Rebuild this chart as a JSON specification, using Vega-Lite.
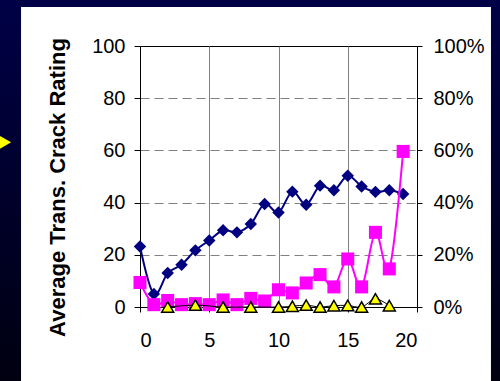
{
  "$schema": "https://vega.github.io/schema/vega-lite/v6.json",
  "width": 277,
  "height": 261,
  "autosize": {"type": "none"},
  "padding": {"left": 140, "top": 46, "right": 83, "bottom": 74},
  "background": "white",
  "datasets": {
    "main": [
      {"x": 0, "rating": 23.2, "pct": 0.094},
      {"x": 1, "rating": 5.0, "pct": 0.009},
      {"x": 2, "rating": 13.0, "pct": 0.025},
      {"x": 3, "rating": 16.2, "pct": 0.009},
      {"x": 4, "rating": 21.7, "pct": 0.013},
      {"x": 5, "rating": 25.5, "pct": 0.009},
      {"x": 6, "rating": 29.4, "pct": 0.027},
      {"x": 7, "rating": 28.6, "pct": 0.009},
      {"x": 8, "rating": 31.8, "pct": 0.033},
      {"x": 9, "rating": 39.5, "pct": 0.023},
      {"x": 10, "rating": 36.2, "pct": 0.066},
      {"x": 11, "rating": 44.2, "pct": 0.054},
      {"x": 12, "rating": 39.2, "pct": 0.092},
      {"x": 13, "rating": 46.5, "pct": 0.124},
      {"x": 14, "rating": 44.7, "pct": 0.077},
      {"x": 15, "rating": 50.3, "pct": 0.184},
      {"x": 16, "rating": 46.2, "pct": 0.077},
      {"x": 17, "rating": 44.1, "pct": 0.286},
      {"x": 18, "rating": 44.7, "pct": 0.146},
      {"x": 19, "rating": 43.3, "pct": 0.596}
    ],
    "tri": [
      {"x": 2, "pct": 0.0},
      {"x": 4, "pct": 0.007},
      {"x": 6, "pct": 0.0},
      {"x": 8, "pct": 0.0},
      {"x": 10, "pct": 0.0},
      {"x": 11, "pct": 0.003},
      {"x": 12, "pct": 0.007},
      {"x": 13, "pct": 0.0},
      {"x": 14, "pct": 0.005},
      {"x": 15, "pct": 0.006},
      {"x": 16, "pct": 0.0},
      {"x": 17, "pct": 0.031},
      {"x": 18, "pct": 0.005}
    ]
  },
  "config": {
    "view": {"stroke": "black", "strokeWidth": 1},
    "axis": {
      "labelFont": "Liberation Sans",
      "labelFontSize": 20,
      "labelColor": "black",
      "domainColor": "black",
      "tickColor": "black",
      "titleFont": "Liberation Sans",
      "titleColor": "black"
    },
    "axisBottom": {
      "tickCount": 4, "tickSize": 5, "labelPadding": 18, "grid": true, "gridColor": "#808080", "gridWidth": 1
    }
  },
  "resolve": {"scale": {"y": "independent"}, "axis": {"y": "independent"}},
  "layer": [
    {
      "data": {"values": [{}]},
      "mark": {"type": "rect", "color": {"gradient": "linear", "x1": 0, "y1": 0, "x2": 0, "y2": 1, "stops": [{"offset": 0, "color": "#000048"}, {"offset": 1, "color": "#000010"}]}},
      "encoding": {
        "x": {"datum": -10.4, "type": "quantitative", "scale": {"domain": [0, 20], "nice": false}, "title": null},
        "x2": {"datum": -8.59},
        "y": {"datum": -30, "type": "quantitative", "scale": {"domain": [0, 100], "nice": false}, "axis": null},
        "y2": {"datum": 120}
      }
    },
    {
      "data": {"values": [{}]},
      "mark": {"type": "rect", "color": "#000046"},
      "encoding": {
        "x": {"datum": -10.4, "type": "quantitative", "scale": {"domain": [0, 20], "nice": false}, "title": null},
        "x2": {"datum": 26.4},
        "y": {"datum": 114.94, "type": "quantitative", "scale": {"domain": [0, 100], "nice": false}, "axis": null},
        "y2": {"datum": 120}
      }
    },
    {
      "data": {"values": [{}]},
      "mark": {"type": "rect", "color": {"gradient": "linear", "x1": 0, "y1": 0, "x2": 0, "y2": 1, "stops": [{"offset": 0, "color": "#000048"}, {"offset": 1, "color": "#000010"}]}},
      "encoding": {
        "x": {"datum": 25.34, "type": "quantitative", "scale": {"domain": [0, 20], "nice": false}, "title": null},
        "x2": {"datum": 26.4},
        "y": {"datum": -30, "type": "quantitative", "scale": {"domain": [0, 100], "nice": false}, "axis": null},
        "y2": {"datum": 120}
      }
    },
    {
      "data": {"values": [{}]},
      "mark": {"type": "point", "shape": "triangle-right", "filled": true, "size": 361, "color": "#FFFF00", "opacity": 1},
      "encoding": {
        "x": {"datum": -9.9, "type": "quantitative", "scale": {"domain": [0, 20], "nice": false}, "title": null},
        "y": {"datum": 63.1, "type": "quantitative", "scale": {"domain": [0, 100], "nice": false}, "axis": null}
      }
    },
    {
      "data": {"name": "main"},
      "mark": {"type": "line", "interpolate": "cardinal", "color": "#000080", "strokeWidth": 2,
               "point": {"shape": "diamond", "size": 155, "filled": true, "color": "#000080", "opacity": 1}},
      "encoding": {
        "x": {"field": "x", "type": "quantitative", "scale": {"domain": [0, 20], "nice": false}, "title": null},
        "y": {"field": "rating", "type": "quantitative", "scale": {"domain": [0, 100], "nice": false},
              "axis": {"orient": "left", "title": "Average Trans. Crack Rating", "tickCount": 5, "tickSize": 6, "labelPadding": 9,
                       "grid": true, "gridColor": "#808080", "gridDash": [9, 5], "gridWidth": 1,
                       "gridOpacity": {"condition": {"test": "datum.value == 0 || datum.value == 100", "value": 0}, "value": 1},
                       "titleFontSize": 22, "titleFontWeight": "bold", "titleAngle": 270, "titleAlign": "center", "titleBaseline": "middle",
                       "titleX": -83, "titleY": 141}}
      }
    },
    {
      "data": {"name": "main"},
      "mark": {"type": "line", "interpolate": "cardinal", "color": "#FF00FF", "strokeWidth": 2,
               "point": {"shape": "square", "size": 170, "filled": true, "color": "#FF00FF", "opacity": 1}},
      "encoding": {
        "x": {"field": "x", "type": "quantitative", "scale": {"domain": [0, 20], "nice": false}, "title": null},
        "y": {"field": "pct", "type": "quantitative", "scale": {"domain": [0, 1], "nice": false},
              "axis": {"orient": "right", "title": null, "format": ".0%", "tickCount": 5, "tickSize": 5, "labelPadding": 11, "grid": false}}
      }
    },
    {
      "data": {"name": "tri"},
      "mark": {"type": "line", "interpolate": "cardinal", "color": "black", "strokeWidth": 1,
               "point": {"shape": "triangle-up", "size": 144, "filled": true, "fill": "#FFFF00", "stroke": "black", "strokeWidth": 1.5, "opacity": 1}},
      "encoding": {
        "x": {"field": "x", "type": "quantitative", "scale": {"domain": [0, 20], "nice": false}, "title": null},
        "y": {"field": "pct", "type": "quantitative", "scale": {"domain": [0, 1], "nice": false}, "axis": null}
      }
    }
  ]
}
